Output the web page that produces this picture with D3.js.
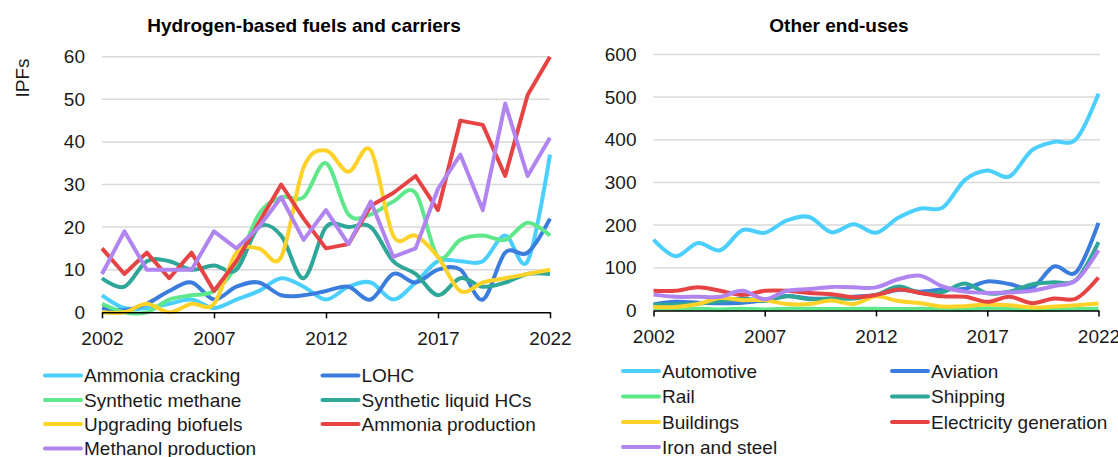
<!DOCTYPE html>
<html>
<head>
<meta charset="utf-8">
<script src="https://cdn.jsdelivr.net/npm/d3@7"></script>
<style>
  html, body { margin: 0; padding: 0; background: #fff; }
  svg { display: block; font-family: "Liberation Sans", Arial, sans-serif; }
</style>
</head>
<body>
<svg id="chart" width="1118" height="457"></svg>
<script>
// Years shared by both panels
const years = d3.range(2002, 2023);
const xTickYears = [2002, 2007, 2012, 2017, 2022];

// Panel 1: hydrogen-based fuels and carriers (IPFs)
const ammoniaCracking   = [4, 1, 1, 2, 3, 1, 3, 5, 8, 6, 3, 6, 7, 3, 7, 12, 12, 12, 18, 12, 37];
const lohc              = [1, 0.5, 2, 5, 7, 3, 6, 7, 4, 4, 5, 6, 3, 9, 7, 10, 10, 3, 14, 14, 22];
const syntheticMethane  = [2, 0, 0, 3, 4, 5, 11, 23, 27, 27, 35, 23, 23, 26, 28, 13, 17, 18, 17, 21, 18];
const syntheticLiquid   = [8, 6, 12, 12, 10, 11, 10, 20, 18, 8, 20, 20, 20, 12, 9, 4, 8, 6, 7, 9, 9];
const upgradingBiofuels = [0, 0, 2, 0, 2, 2, 14, 15, 13, 34, 38, 33, 38, 18, 18, 13, 5, 7, 8, 9, 10];
const ammoniaProduction = [15, 9, 14, 8, 14, 5, 12, 21, 30, 22, 15, 16, 25, 28, 32, 24, 45, 44, 32, 51, 60];
const methanolProduction= [9, 19, 10, 10, 10, 19, 15, 20, 27, 17, 24, 16, 26, 13, 15, 29, 37, 24, 49, 32, 41];
const leftTicks = [0, 10, 20, 30, 40, 50, 60];

// Panel 2: other end-uses (IPFs)
const automotive   = [166, 127, 158, 141, 188, 182, 211, 219, 183, 202, 182, 217, 239, 241, 306, 328, 314, 375, 395, 402, 508];
const aviation     = [14, 20, 18, 17, 18, 24, 34, 28, 28, 32, 36, 48, 44, 49, 51, 68, 62, 52, 103, 90, 205];
const rail         = [5, 3, 4, 2, 4, 2, 4, 4, 3, 4, 4, 3, 4, 3, 2, 5, 3, 1, 2, 3, 4];
const shipping     = [13, 14, 16, 22, 28, 22, 33, 26, 28, 28, 36, 56, 41, 43, 63, 40, 44, 61, 66, 72, 160];
const buildings    = [8, 8, 15, 29, 24, 24, 15, 15, 23, 15, 33, 22, 17, 9, 10, 14, 12, 7, 9, 12, 16];
const electricity  = [46, 46, 54, 46, 36, 46, 46, 41, 38, 31, 36, 49, 41, 33, 32, 20, 32, 17, 28, 28, 77];
const ironSteel    = [37, 32, 32, 32, 46, 26, 46, 50, 55, 54, 54, 73, 81, 56, 44, 41, 42, 46, 57, 71, 141];
const rightTicks = [0, 100, 200, 300, 400, 500, 600];

const C = {
  lightBlue: "#4acfff",
  blue: "#3b7ddd",
  green: "#5fe88b",
  teal: "#2ea698",
  yellow: "#ffd22a",
  red: "#e64444",
  purple: "#b185f0"
};

const leftSeries = [
  { name: "Ammonia cracking",     values: ammoniaCracking,    color: C.lightBlue, smooth: true },
  { name: "LOHC",                 values: lohc,               color: C.blue,      smooth: true },
  { name: "Synthetic methane",    values: syntheticMethane,   color: C.green,     smooth: true },
  { name: "Synthetic liquid HCs", values: syntheticLiquid,    color: C.teal,      smooth: true },
  { name: "Upgrading biofuels",   values: upgradingBiofuels,  color: C.yellow,    smooth: true },
  { name: "Ammonia production",   values: ammoniaProduction,  color: C.red,       smooth: false },
  { name: "Methanol production",  values: methanolProduction, color: C.purple,    smooth: false }
];

const rightSeries = [
  { name: "Automotive",             values: automotive,  color: C.lightBlue, smooth: true },
  { name: "Aviation",               values: aviation,    color: C.blue,      smooth: true },
  { name: "Rail",                   values: rail,        color: C.green,     smooth: true },
  { name: "Shipping",               values: shipping,    color: C.teal,      smooth: true },
  { name: "Buildings",              values: buildings,   color: C.yellow,    smooth: true },
  { name: "Electricity generation", values: electricity, color: C.red,       smooth: true },
  { name: "Iron and steel",         values: ironSteel,   color: C.purple,    smooth: true }
];

const svg = d3.select("#chart");
const FONT = 19;
const TEXT = "#1a1a1a";

function drawPanel(cfg) {
  const g = svg.append("g");
  const x = d3.scaleLinear().domain([2002, 2022]).range([cfg.x0, cfg.x1]);
  const y = d3.scaleLinear().domain([0, cfg.ymax]).range([cfg.y0, cfg.y1]);

  // title
  g.append("text")
    .attr("x", cfg.titleX).attr("y", 32)
    .attr("text-anchor", "middle")
    .attr("font-size", FONT).attr("font-weight", "bold")
    .attr("fill", "#000")
    .text(cfg.title);

  // horizontal gridlines
  g.append("g").selectAll("line")
    .data(cfg.ticks.filter(d => d > 0))
    .join("line")
    .attr("x1", cfg.x0).attr("x2", cfg.gridEnd)
    .attr("y1", d => y(d)).attr("y2", d => y(d))
    .attr("stroke", "#d9d9d9").attr("stroke-width", 1.5);

  // y axis labels (no axis line)
  const yAxis = d3.axisLeft(y).tickValues(cfg.ticks).tickSize(0).tickPadding(17);
  const ya = g.append("g").attr("transform", `translate(${cfg.x0},0)`).call(yAxis);
  ya.select(".domain").remove();
  ya.selectAll("text").attr("font-size", FONT).attr("fill", TEXT)
    .attr("font-family", "Liberation Sans, Arial, sans-serif");

  // series
  const smoothLine = d3.line()
    .x((d, i) => x(years[i])).y(d => y(d))
    .curve(d3.curveCardinal.tension(0));
  const straightLine = d3.line()
    .x((d, i) => x(years[i])).y(d => y(d));

  g.append("g").selectAll("path")
    .data(cfg.series)
    .join("path")
    .attr("d", s => (s.smooth ? smoothLine : straightLine)(s.values))
    .attr("fill", "none")
    .attr("stroke", s => s.color)
    .attr("stroke-width", 4)
    .attr("stroke-linejoin", "round")
    .attr("stroke-linecap", "butt");

  // x axis
  const xAxis = d3.axisBottom(x).tickValues(xTickYears).tickFormat(d3.format("d"))
    .tickSizeInner(6).tickSizeOuter(0).tickPadding(13);
  const xa = g.append("g").attr("transform", `translate(0,${cfg.y0})`).call(xAxis);
  xa.select(".domain").attr("stroke", "#000").attr("stroke-width", 1.5);
  xa.selectAll(".tick line").attr("stroke", "#000").attr("stroke-width", 1.5);
  xa.selectAll("text").attr("font-size", FONT).attr("fill", TEXT)
    .attr("font-family", "Liberation Sans, Arial, sans-serif");

  // legend, two columns, row-major
  const lg = g.append("g");
  cfg.series.forEach((s, i) => {
    const col = i % 2, row = Math.floor(i / 2);
    const sx = cfg.legendCols[col];
    const sy = cfg.legendRows[row];
    lg.append("line")
      .attr("x1", sx).attr("x2", sx + 36)
      .attr("y1", sy).attr("y2", sy)
      .attr("stroke", s.color).attr("stroke-width", 4)
      .attr("stroke-linecap", "round");
    lg.append("text")
      .attr("x", sx + 39).attr("y", sy)
      .attr("dy", "0.35em")
      .attr("font-size", FONT).attr("fill", TEXT)
      .text(s.name);
  });
}

drawPanel({
  title: "Hydrogen-based fuels and carriers",
  titleX: 304,
  x0: 102, x1: 550, gridEnd: 550,
  y0: 312.3, y1: 56.7, ymax: 60,
  ticks: leftTicks,
  series: leftSeries,
  legendCols: [45, 322.5],
  legendRows: [375.5, 400, 424, 448.5]
});

drawPanel({
  title: "Other end-uses",
  titleX: 839,
  x0: 653.5, x1: 1098.5, gridEnd: 1100,
  y0: 310.4, y1: 54.4, ymax: 600,
  ticks: rightTicks,
  series: rightSeries,
  legendCols: [623, 892],
  legendRows: [371, 396.5, 422, 447]
});

// y axis title
svg.append("text")
  .attr("transform", "translate(29,78) rotate(-90)")
  .attr("text-anchor", "middle")
  .attr("font-size", FONT).attr("fill", TEXT)
  .text("IPFs");
</script>
</body>
</html>
